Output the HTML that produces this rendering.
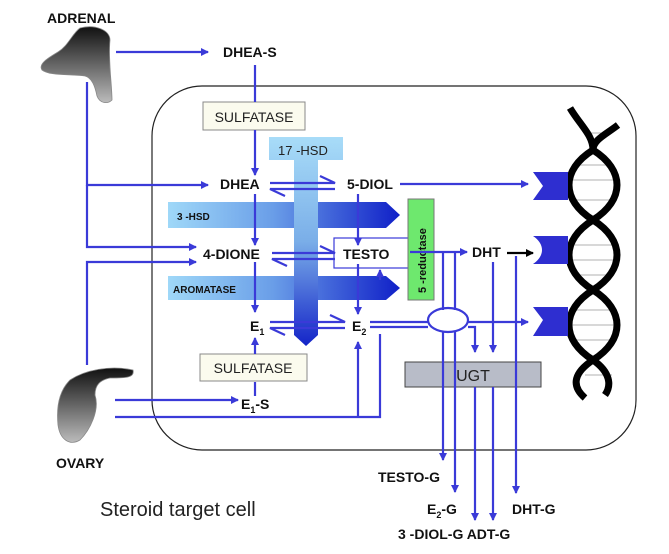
<!DOCTYPE html>
<html><head><meta charset="utf-8"><style>
html,body{margin:0;padding:0;background:#fff;}
svg{display:block;font-family:"Liberation Sans",Arial,sans-serif;}
.b{font-weight:bold;font-size:14px;fill:#111;}
</style></head><body>
<svg width="669" height="554" viewBox="0 0 669 554" xmlns="http://www.w3.org/2000/svg">
<defs>
<linearGradient id="hg" x1="0" x2="1" y1="0" y2="0"><stop offset="0" stop-color="#9fd8f8"/><stop offset="0.45" stop-color="#6a9ee8"/><stop offset="1" stop-color="#1020c8"/></linearGradient>
<linearGradient id="vg" x1="0" x2="0" y1="0" y2="1"><stop offset="0" stop-color="#a8dcf8"/><stop offset="0.5" stop-color="#7aaee8"/><stop offset="1" stop-color="#1424c8"/></linearGradient>
<linearGradient id="gg" x1="0" x2="0" y1="0" y2="1"><stop offset="0" stop-color="#111"/><stop offset="1" stop-color="#bbb"/></linearGradient>
<marker id="a" markerWidth="8" markerHeight="8" refX="7" refY="4" orient="auto" markerUnits="userSpaceOnUse"><path d="M0,0 L8,4 L0,8 Z" fill="#3a3ad8"/></marker>
<marker id="k" markerWidth="8" markerHeight="8" refX="7" refY="4" orient="auto" markerUnits="userSpaceOnUse"><path d="M0,0 L8,4 L0,8 Z" fill="#000"/></marker>
</defs>
<rect x="152" y="86" width="484" height="364" rx="50" fill="none" stroke="#222" stroke-width="1.2"/>
<!-- DNA -->
<g stroke="#999" stroke-width="0.8">
<line x1="585" y1="133" x2="612" y2="133"/><line x1="572" y1="165" x2="614" y2="165"/><line x1="570" y1="180" x2="616" y2="180"/><line x1="572" y1="200" x2="614" y2="200"/><line x1="575" y1="245" x2="612" y2="245"/><line x1="570" y1="260" x2="616" y2="260"/><line x1="572" y1="275" x2="614" y2="275"/><line x1="572" y1="310" x2="614" y2="310"/><line x1="570" y1="325" x2="616" y2="325"/><line x1="572" y1="340" x2="614" y2="340"/><line x1="585" y1="375" x2="612" y2="375"/>
</g>
<path d="M570,108 C580,125 593,135 593,150 C625,170 625,200 593,220 C561,240 561,270 593,290 C625,310 625,340 593,360 C575,372 570,385 585,398" fill="none" stroke="#000" stroke-width="7"/>
<path d="M618,125 C605,135 593,140 593,150 C561,170 561,200 593,220 C625,240 625,270 593,290 C561,310 561,340 593,360 C610,372 612,385 605,395" fill="none" stroke="#000" stroke-width="7"/>
<!-- receptors -->
<path d="M533,172 H568 V200 H533 L543,186 Z" fill="#2e2ed0"/>
<path d="M533,236 H568 V264 H533 C545,256 545,244 533,236 Z" fill="#2e2ed0"/>
<path d="M533,307 H568 V336 H533 L543,320 Z" fill="#2e2ed0"/>
<!-- organs -->
<path d="M80,28 C95,24 110,30 110,40 C108,60 112,85 112,100 C108,104 100,104 97,96 C95,86 92,78 85,76 C70,74 50,76 42,70 C38,64 48,58 58,52 C68,46 72,34 80,28 Z" fill="url(#gg)" stroke="#888" stroke-width="0.8"/>
<path d="M70,380 C85,370 110,365 133,370 C135,378 125,378 110,378 C100,380 95,385 95,395 C100,410 90,430 80,440 C70,446 60,440 58,425 C56,405 60,390 70,380 Z" fill="url(#gg)" stroke="#888" stroke-width="0.8"/>
<text x="47" y="23" class="b" font-size="13">ADRENAL</text>
<text x="56" y="468" class="b">OVARY</text>
<path d="M168,202 H386 L400,215 L386,228 H168 Z" fill="url(#hg)"/>
<path d="M168,276 H386 L400,288 L386,300 H168 Z" fill="url(#hg)"/>
<path d="M269,137 H343 V160 H318 V335 L306,346 L294,335 V160 H269 Z" fill="url(#vg)"/>
<text x="278" y="155" font-size="13" fill="#222">17  -HSD</text>
<text x="177" y="220" font-size="10" font-weight="bold" fill="#111">3  -HSD</text>
<text x="173" y="293" font-size="10" font-weight="bold" fill="#111">AROMATASE</text>
<rect x="203" y="102" width="102" height="28" fill="#fbfbee" stroke="#888"/>
<text x="254" y="122" font-size="14" text-anchor="middle" fill="#222">SULFATASE</text>
<rect x="200" y="354" width="107" height="27" fill="#fbfbee" stroke="#888"/>
<text x="253" y="373" font-size="14" text-anchor="middle" fill="#222">SULFATASE</text>
<rect x="334" y="238" width="76" height="30" fill="none" stroke="#3a3ad8" stroke-width="1.2"/>
<rect x="405" y="362" width="136" height="25" fill="#b8bcc8" stroke="#444"/>
<text x="473" y="381" font-size="16" text-anchor="middle" fill="#222">UGT</text>
<rect x="408" y="199" width="26" height="101" fill="#6ee86e" stroke="#777"/>
<text transform="translate(426,293) rotate(-90)" font-size="11" font-weight="bold" fill="#111">5  -reductase</text>
<g stroke="#3a3ad8" stroke-width="2.2" fill="none">
<line x1="116" y1="52" x2="208" y2="52" marker-end="url(#a)"/>
<line x1="255" y1="65" x2="255" y2="102"/>
<line x1="255" y1="130" x2="255" y2="175" marker-end="url(#a)"/>
<polyline points="87,82 87,185 208,185" marker-end="url(#a)"/>
<polyline points="87,185 87,247 196,247" marker-end="url(#a)"/>
<polyline points="87,365 87,262 196,262" marker-end="url(#a)"/>
<line x1="255" y1="194" x2="255" y2="245" marker-end="url(#a)"/>
<line x1="255" y1="262" x2="255" y2="312" marker-end="url(#a)"/>
<line x1="358" y1="194" x2="358" y2="245" marker-end="url(#a)"/>
<line x1="358" y1="264" x2="358" y2="314" marker-end="url(#a)"/>
<line x1="400" y1="184" x2="528" y2="184" marker-end="url(#a)"/>
<polyline points="270,183 335,183 320,176"/><polyline points="335,189 270,189 285,196"/>
<polyline points="272,253 335,253 320,246"/><polyline points="335,259 272,259 287,266"/>
<polyline points="270,322 345,322 330,315"/><polyline points="345,328 270,328 285,335"/>
<line x1="410" y1="252" x2="467" y2="252" marker-end="url(#a)"/>
<line x1="115" y1="400" x2="238" y2="400" marker-end="url(#a)"/>
<line x1="255" y1="396" x2="255" y2="382"/>
<line x1="255" y1="354" x2="255" y2="338" marker-end="url(#a)"/>
<polyline points="115,417 380,417 380,334 C390,330 390,318 380,314 L380,272" />
<line x1="380" y1="280" x2="380" y2="270" marker-end="url(#a)"/>
<line x1="358" y1="417" x2="358" y2="342" marker-end="url(#a)"/>
<line x1="370" y1="322" x2="428" y2="322"/>
<line x1="370" y1="327" x2="428" y2="327"/>
<line x1="468" y1="322" x2="528" y2="322" marker-end="url(#a)"/>
<polyline points="468,327 475,327 475,352" marker-end="url(#a)"/>
<ellipse cx="448" cy="320" rx="20" ry="12"/>
<line x1="443" y1="252" x2="443" y2="310"/><line x1="455" y1="252" x2="455" y2="310"/>
<line x1="443" y1="331" x2="443" y2="460" marker-end="url(#a)"/>
<line x1="455" y1="331" x2="455" y2="492" marker-end="url(#a)"/>
<line x1="475" y1="387" x2="475" y2="520" marker-end="url(#a)"/>
<line x1="493" y1="387" x2="493" y2="520" marker-end="url(#a)"/>
<line x1="493" y1="262" x2="493" y2="352" marker-end="url(#a)"/>
<line x1="516" y1="256" x2="516" y2="493" marker-end="url(#a)"/>
</g>
<line x1="507" y1="253" x2="533" y2="253" stroke="#000" stroke-width="2.2" marker-end="url(#k)"/>
<text x="223" y="57" class="b">DHEA-S</text>
<text x="220" y="189" class="b">DHEA</text>
<text x="347" y="189" class="b">5-DIOL</text>
<text x="203" y="259" class="b">4-DIONE</text>
<text x="343" y="259" class="b">TESTO</text>
<text x="472" y="257" class="b">DHT</text>
<text x="250" y="331" class="b">E<tspan font-size="9" dy="4">1</tspan></text>
<text x="352" y="331" class="b">E<tspan font-size="9" dy="4">2</tspan></text>
<text x="241" y="409" class="b">E<tspan font-size="9" dy="4">1</tspan><tspan dy="-4">-S</tspan></text>
<text x="378" y="482" class="b">TESTO-G</text>
<text x="427" y="514" class="b">E<tspan font-size="9" dy="4">2</tspan><tspan dy="-4">-G</tspan></text>
<text x="512" y="514" class="b">DHT-G</text>
<text x="398" y="539" class="b">3  -DIOL-G ADT-G</text>
<text x="100" y="516" font-size="20" fill="#222">Steroid target cell</text>
</svg>
</body></html>
